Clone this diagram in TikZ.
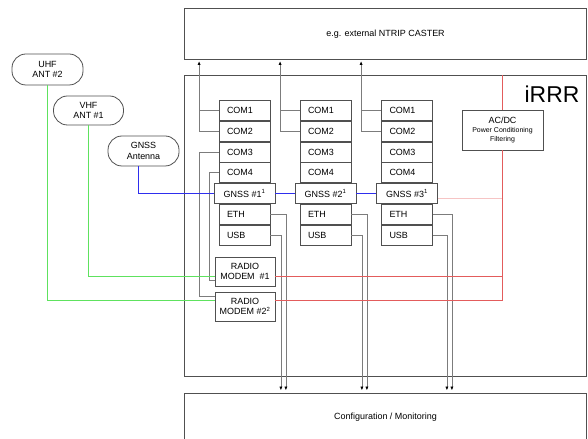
\documentclass[tikz,border=0pt]{standalone}
\usepackage{fontspec}
\setmainfont{Liberation Sans}
\usepackage{xcolor}
\usepackage{tikz}
\usetikzlibrary{arrows.meta,positioning}
\definecolor{BoxGray}{HTML}{505050}
\definecolor{WireGray}{HTML}{7C7C7C}
\definecolor{AntGreen}{HTML}{5EE25E}
\definecolor{PwrRed}{HTML}{E35C5C}
\definecolor{GnssBlue}{HTML}{2E2EEE}
\definecolor{PalePink}{HTML}{F6C4C4}
\tikzset{
  BaseNode/.style = {align=center, inner sep=1bp, text centered, font=\fontsize{9}{10.5}\selectfont},
  FrameNode/.style = {BaseNode, rectangle, draw=BoxGray, line width=1bp, minimum width=402bp},
  PortNode/.style = {BaseNode, rectangle, draw=BoxGray, line width=0.8bp, minimum width=51bp, minimum height=20bp, text width=35bp, align=left},
  GnssNode/.style = {BaseNode, rectangle, draw=BoxGray, line width=0.8bp, minimum width=61bp, minimum height=20bp},
  ModemNode/.style = {BaseNode, rectangle, draw=BoxGray, line width=0.8bp, minimum width=60bp, minimum height=29bp},
  AntNode/.style = {BaseNode, rectangle, rounded corners=14bp, draw=BoxGray, line width=0.8bp, minimum width=71bp, minimum height=30bp},
  GrayWire/.style = {draw=WireGray, line width=0.8bp},
  UpWire/.style = {GrayWire, -{Latex[length=4bp, width=3.2bp, black]}, shorten >=1bp},
  DownWire/.style = {GrayWire, -{Latex[length=4bp, width=3.2bp, black]}, shorten >=2.5bp},
  GreenWire/.style = {draw=AntGreen, line width=1.2bp},
  RedWire/.style = {draw=PwrRed, line width=1.2bp},
  BlueWire/.style = {draw=GnssBlue, line width=1.2bp},
  PinkWire/.style = {draw=PalePink, line width=1bp},
}

\begin{document}
\begin{tikzpicture}[x=1bp, y=-1bp]
    \useasboundingbox (0,0) rectangle (588,439);

    \node [FrameNode, minimum height=51bp] (caster) at (385.5,34) {e.g. external NTRIP CASTER};
    \node [FrameNode, minimum height=301bp] (main) at (385.5,226) {};
    \node [FrameNode, minimum height=48bp] (config) at (385.5,417.5) {Configuration / Monitoring};
    \node [BaseNode, font=\fontsize{23}{25}\selectfont, anchor=base] (irrr) at (552,103) {iRRR};

    \node [AntNode, minimum height=31bp] (uhfAnt) at (47.5,69.5) {UHF\\ANT \#2};
    \node [AntNode, minimum width=70bp, minimum height=29bp] (vhfAnt) at (88.5,110.5) {VHF\\ANT \#1};
    \node [AntNode] (gnssAnt) at (143.5,151) {GNSS\\Antenna};

    \node [PortNode] (com1A) at (244.5,110.5) {COM1};
    \node [PortNode, below=0bp of com1A] (com2A) {COM2};
    \node [PortNode, below=0bp of com2A] (com3A) {COM3};
    \node [PortNode, below=0bp of com3A] (com4A) {COM4};
    \node [GnssNode, below=0bp of com4A] (gnssA) {GNSS \#1\textsuperscript{1}};
    \node [PortNode, below=0bp of gnssA] (ethA) {ETH};
    \node [PortNode, below=0bp of ethA] (usbA) {USB};

    \node [PortNode] (com1B) at (325.5,110.5) {COM1};
    \node [PortNode, below=0bp of com1B] (com2B) {COM2};
    \node [PortNode, below=0bp of com2B] (com3B) {COM3};
    \node [PortNode, below=0bp of com3B] (com4B) {COM4};
    \node [GnssNode, below=0bp of com4B] (gnssB) {GNSS \#2\textsuperscript{1}};
    \node [PortNode, below=0bp of gnssB] (ethB) {ETH};
    \node [PortNode, below=0bp of ethB] (usbB) {USB};

    \node [PortNode] (com1C) at (407,110.5) {COM1};
    \node [PortNode, below=0bp of com1C] (com2C) {COM2};
    \node [PortNode, below=0bp of com2C] (com3C) {COM3};
    \node [PortNode, below=0bp of com3C] (com4C) {COM4};
    \node [GnssNode, below=0bp of com4C] (gnssC) {GNSS \#3\textsuperscript{1}};
    \node [PortNode, below=0bp of gnssC] (ethC) {ETH};
    \node [PortNode, below=0bp of ethC] (usbC) {USB};

    \node [ModemNode] (modemA) at (245,271.5) {RADIO\\MODEM\ \ \#1};
    \node [ModemNode] (modemB) at (245,306.5) {RADIO\\MODEM \#2\textsuperscript{2}};

    \node [BaseNode, rectangle, draw=BoxGray, line width=0.8bp, minimum width=81bp, minimum height=40bp] (power) at (502.5,130)
        {AC/DC\\[-1bp]\fontsize{7}{8}\selectfont Power Conditioning\\[-1bp]\fontsize{7}{8}\selectfont Filtering};

    \draw [UpWire] (com2A.west) -| ([xshift=-19.5bp]com2A.west |- caster.south);
    \draw [GrayWire] (com1A.west) -- ++(-19.5,0);
    \draw [UpWire] (com2B.west) -| ([xshift=-19.5bp]com2B.west |- caster.south);
    \draw [GrayWire] (com1B.west) -- ++(-19.5,0);
    \draw [UpWire] (com2C.west) -| ([xshift=-20bp]com2C.west |- caster.south);
    \draw [GrayWire] (com1C.west) -- ++(-20,0);

    \draw [GrayWire] (com3A.west) -- ++(-19.5,0) |- ([yshift=10bp]modemB.west);
    \draw [GrayWire] (com4A.west) -- ++(-9.5,0) |- ([yshift=-9bp]modemA.west);

    \draw [DownWire] (ethA.east) -| ([xshift=15.5bp]ethA.east |- config.north);
    \draw [DownWire] (usbA.east) -| ([xshift=10.5bp]usbA.east |- config.north);
    \draw [DownWire] (ethB.east) -| ([xshift=15.5bp]ethB.east |- config.north);
    \draw [DownWire] (usbB.east) -| ([xshift=10.5bp]usbB.east |- config.north);
    \draw [DownWire] (ethC.east) -| ([xshift=19bp]ethC.east |- config.north);
    \draw [DownWire] (usbC.east) -| ([xshift=14bp]usbC.east |- config.north);

    \draw [GreenWire] (uhfAnt.south) |- ([yshift=6bp]modemB.west);
    \draw [GreenWire] (vhfAnt.south) |- ([yshift=-5bp]modemA.west);

    \draw [BlueWire] ([xshift=-5bp]gnssAnt.south) |- (gnssA.west);
    \draw [BlueWire] (gnssA.east) -- (gnssB.west);
    \draw [BlueWire] (gnssB.east) -- (gnssC.west);
    \draw [PinkWire] ([yshift=-5bp]gnssC.east) -- ([yshift=-5bp]gnssC.east -| power.south);

    \draw [RedWire] (power.north) -- (power.north |- main.north);
    \draw [RedWire] (power.south) |- ([yshift=6bp]modemB.east);
    \draw [RedWire] ([yshift=-5bp]modemA.east) -- ([yshift=-5bp]modemA.east -| power.south);
\end{tikzpicture}
\end{document}
